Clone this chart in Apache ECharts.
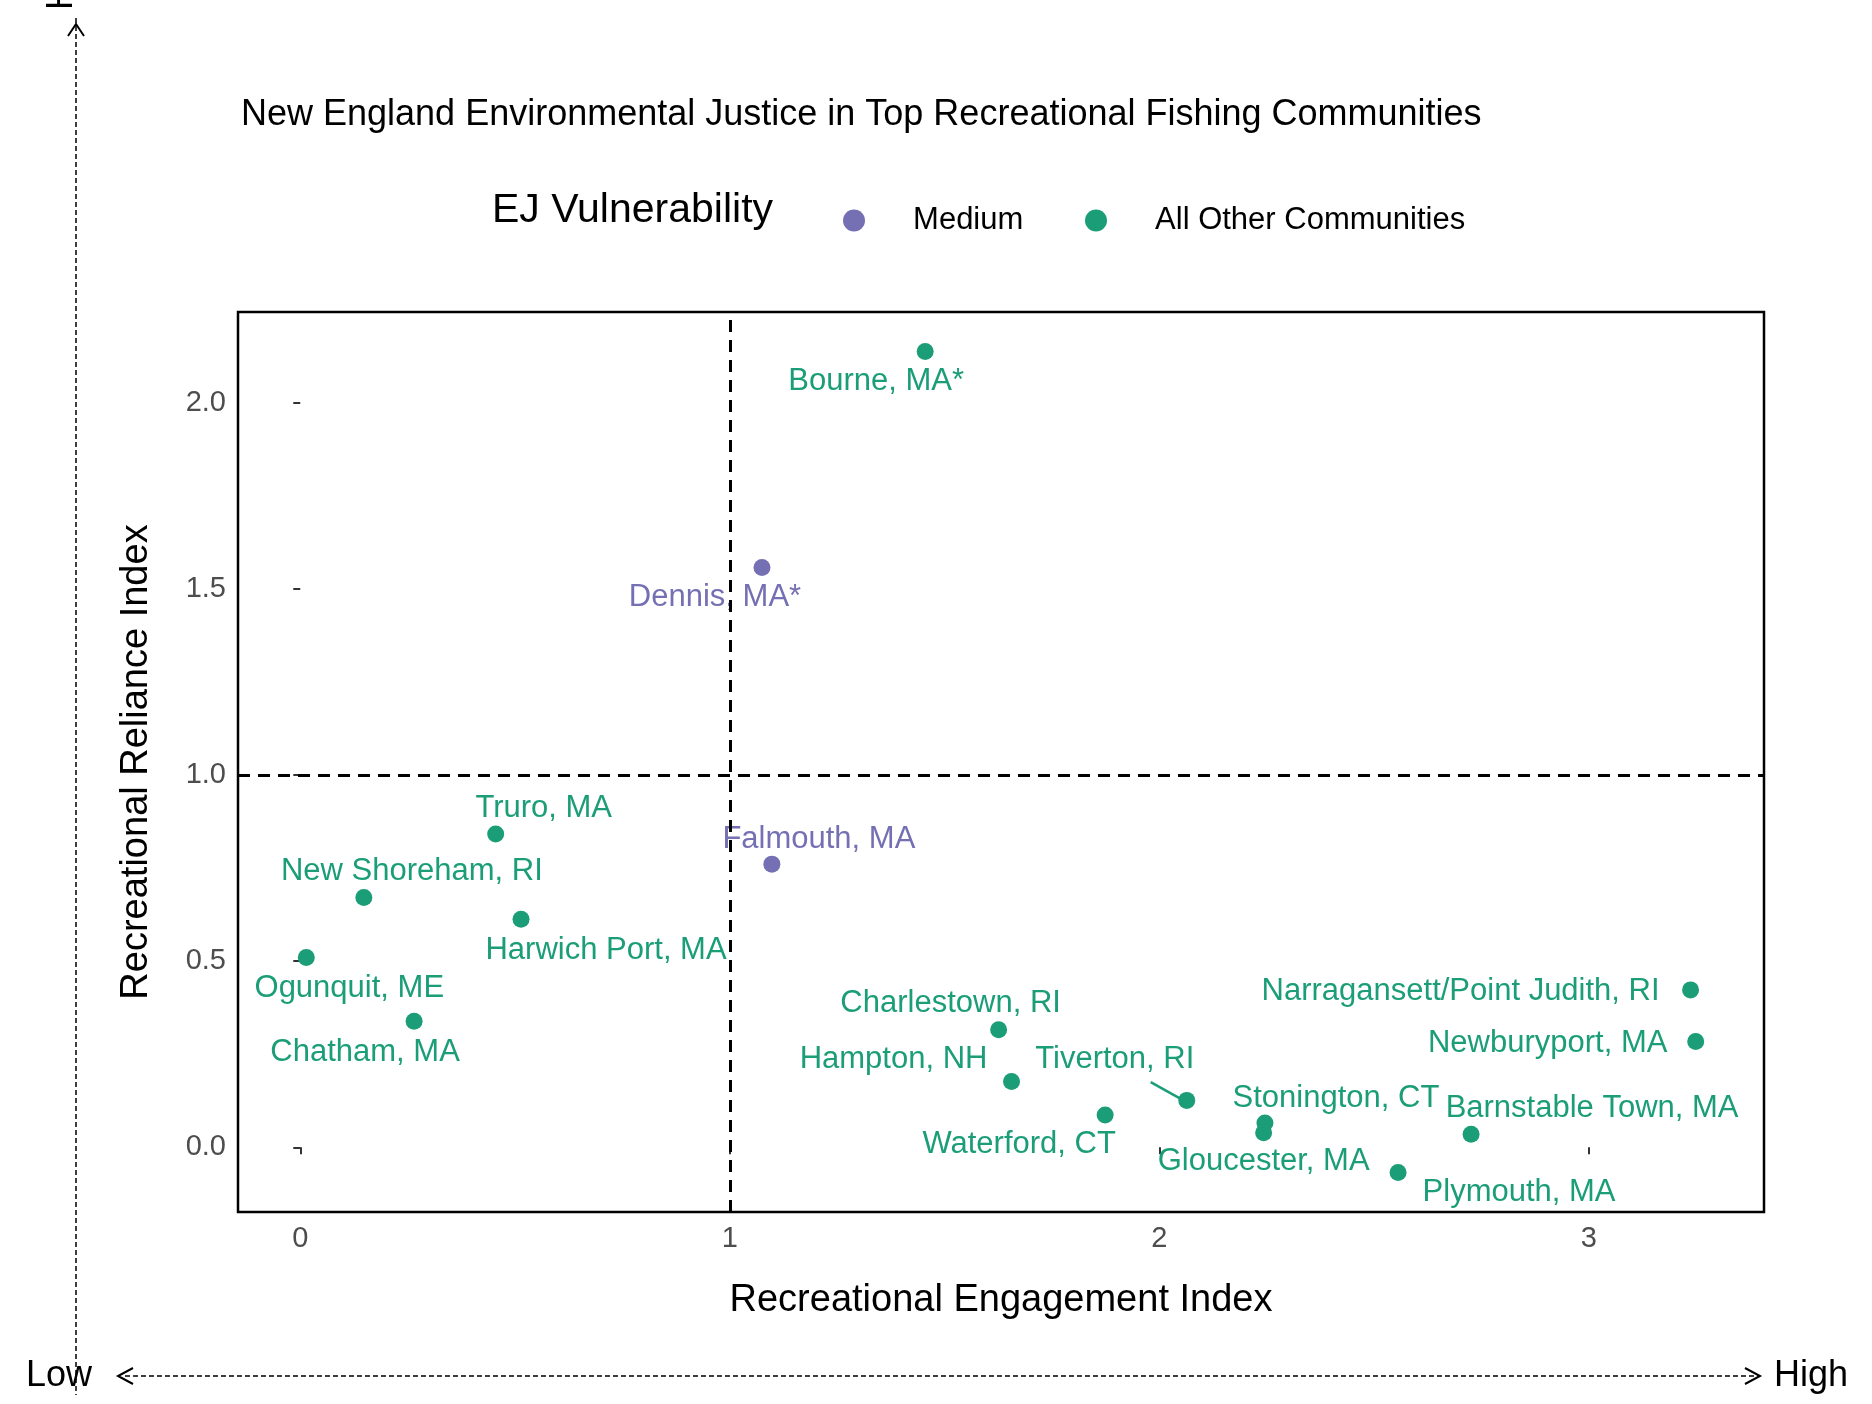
<!DOCTYPE html>
<html><head><meta charset="utf-8">
<script src="https://cdn.jsdelivr.net/npm/echarts@6/dist/echarts.min.js"></script>
<style>html,body{margin:0;padding:0;background:#fff}#c{width:1872px;height:1404px}</style>
</head><body><div id="c"></div>
<script>
const names = ["Bourne, MA*","Dennis, MA*","Falmouth, MA","Truro, MA","New Shoreham, RI","Harwich Port, MA","Ogunquit, ME","Chatham, MA","Charlestown, RI","Hampton, NH","Waterford, CT","Tiverton, RI","Stonington, CT","Gloucester, MA","Plymouth, MA","Barnstable Town, MA","Newburyport, MA","Narragansett/Point Judith, RI"];
const engagement = [1.455,1.075,1.098,0.455,0.148,0.514,0.014,0.265,1.626,1.656,1.874,2.064,2.246,2.243,2.556,2.726,3.249,3.237];
const reliance = [2.139,1.558,0.761,0.842,0.671,0.613,0.51,0.339,0.316,0.177,0.087,0.126,0.065,0.039,-0.068,0.035,0.284,0.423];
const group = ["Other","Medium","Medium","Other","Other","Other","Other","Other","Other","Other","Other","Other","Other","Other","Other","Other","Other","Other"];
const xTicks = [0,1,2,3];
const yTicks = [0,0.5,1,1.5,2];
const labelOffsets = [[-49,30],[-47,30],[47,-25],[48,-26],[48,-26],[85,31],[43,31],[-49,31],[-48,-26],[-118,-22],[-86,30],[-72,-41],[71,-25],[0,29],[121,20],[121,-26],[-148,2],[-230,2]];
const colors = {Medium:"#7570b3", Other:"#1b9e77"};
function pts(g){
  const out=[];
  names.forEach((n,i)=>{ if(group[i]===g) out.push({value:[engagement[i],reliance[i]],name:n,
    label:{show:true,formatter:n,offset:labelOffsets[i],position:'inside',color:colors[g],fontSize:31,fontFamily:'Liberation Sans'}}); });
  return out;
}
const F='Liberation Sans';
const chart = echarts.init(document.getElementById('c'));
chart.setOption({
  animation:false,
  title:{text:'New England Environmental Justice in Top Recreational Fishing Communities',left:236,top:92,textStyle:{fontSize:36,fontWeight:'normal',color:'#000',fontFamily:F}},
  legend:[
    {top:200,left:838,itemWidth:22,itemHeight:22,icon:'circle',textStyle:{fontSize:31,color:'#000',fontFamily:F},
      formatter:n=>'     '+n,data:['Medium']},
    {top:200,left:1080,itemWidth:22,itemHeight:22,icon:'circle',textStyle:{fontSize:31,color:'#000',fontFamily:F},
      formatter:n=>'     '+n,data:['All Other Communities']}
  ],
  graphic:[
    {type:'text',left:492,top:190,style:{text:'EJ Vulnerability',fontSize:41,fill:'#000',fontFamily:F}},
    {type:'line',shape:{x1:76,y1:18,x2:76,y2:1395},style:{stroke:'#000',lineWidth:1.5,lineDash:[5,3]}},
    {type:'polyline',shape:{points:[[68,36],[76,24],[84,36]]},style:{stroke:'#000',fill:null,lineWidth:2}},
    {type:'line',shape:{x1:125,y1:1376,x2:1760,y2:1376},style:{stroke:'#000',lineWidth:1.5,lineDash:[5,3]}},
    {type:'polyline',shape:{points:[[133,1368],[118,1376],[133,1384]]},style:{stroke:'#000',fill:null,lineWidth:2}},
    {type:'polyline',shape:{points:[[1745,1368],[1760,1376],[1745,1384]]},style:{stroke:'#000',fill:null,lineWidth:2}},
    {type:'text',left:26,top:1358,style:{text:'Low',fontSize:36,fill:'#000',fontFamily:F}},
    {type:'text',left:1774,top:1358,style:{text:'High',fontSize:36,fill:'#000',fontFamily:F}},
    {type:'text',x:62,y:10,rotation:Math.PI/2,style:{text:'High',fontSize:36,fill:'#000',fontFamily:F,align:'left',verticalAlign:'middle'}}
  ],
  grid:{left:238,right:108,top:312,bottom:192,show:true,borderColor:'#000',borderWidth:2.5,backgroundColor:'transparent'},
  xAxis:{type:'value',min:-0.145,max:3.408,name:'Recreational Engagement Index',nameLocation:'middle',nameGap:70,
    nameTextStyle:{fontSize:38,color:'#000',fontFamily:F},
    axisLine:{show:false},splitLine:{show:false},
    axisTick:{show:true,length:7,customValues:xTicks,lineStyle:{color:'#333',width:2}},
    axisLabel:{fontSize:29,color:'#4d4d4d',margin:12,fontFamily:F,customValues:xTicks,formatter:v=>String(v)}},
  yAxis:{type:'value',min:-0.174,max:2.245,name:'Recreational Reliance Index',nameLocation:'middle',nameGap:82,
    nameTextStyle:{fontSize:38,color:'#000',fontFamily:F},
    axisLine:{show:false},splitLine:{show:false},
    axisTick:{show:true,length:7,customValues:yTicks,lineStyle:{color:'#333',width:2}},
    axisLabel:{fontSize:29,color:'#4d4d4d',margin:12,fontFamily:F,customValues:yTicks,formatter:v=>v.toFixed(1)}},
  series:[
    {name:'Medium',type:'scatter',symbolSize:17,itemStyle:{color:colors.Medium,opacity:1},data:pts('Medium'),z:3},
    {name:'All Other Communities',type:'scatter',symbolSize:17,itemStyle:{color:colors.Other,opacity:1},data:pts('Other'),z:3,
      markLine:{silent:true,symbol:'none',label:{show:false},lineStyle:{color:'#000',type:[12,8],width:3},
        data:[{xAxis:1},{yAxis:1}]}},
    {type:'lines',coordinateSystem:'cartesian2d',silent:true,lineStyle:{color:colors.Other,width:2.5,opacity:1},
      data:[{coords:[[1.98,0.175],[2.05,0.13]]}]}
  ]
});
</script></body></html>
